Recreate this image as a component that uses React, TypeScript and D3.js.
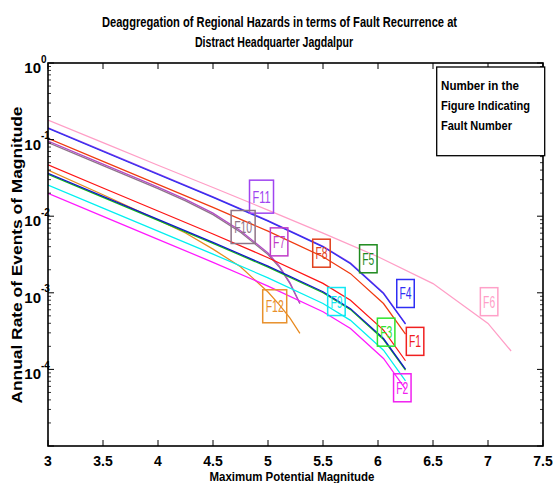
import React, { useLayoutEffect, useRef, useState } from 'react';
import * as d3 from 'd3';

// ---------- data (log10 of annual rate) ----------
const magGroupA = [3, 3.5, 4, 4.5, 5, 5.5, 5.75, 6.05, 6.25];
const magF6 = [3, 3.5, 4, 4.5, 5, 5.5, 6, 6.5, 6.75, 7.0, 7.21];
const magShort = [3, 3.5, 4, 4.25, 4.5, 4.75, 5.0, 5.1, 5.2, 5.29];

const f6Log = [-0.744, -1.04, -1.335, -1.625, -1.92, -2.22, -2.53, -2.88, -3.14, -3.4, -3.76];
const f11Log = [-0.845, -1.147, -1.447, -1.747, -2.057, -2.392, -2.612, -3.002, -3.402];
const f4Log = [-0.853, -1.155, -1.455, -1.755, -2.065, -2.4, -2.62, -3.01, -3.41];
const f8Log = [-0.983, -1.285, -1.585, -1.885, -2.195, -2.53, -2.75, -3.14, -3.54];
const f1Log = [-1.33, -1.632, -1.932, -2.232, -2.542, -2.877, -3.097, -3.487, -3.887];
const f5Log = [-1.44, -1.742, -2.042, -2.342, -2.652, -2.987, -3.207, -3.597, -3.997];
const f3Log = [-1.453, -1.755, -2.055, -2.355, -2.665, -3.0, -3.22, -3.61, -4.01];
const f9Log = [-1.593, -1.895, -2.195, -2.495, -2.805, -3.14, -3.36, -3.75, -4.15];
const f2Log = [-1.7, -2.002, -2.302, -2.602, -2.912, -3.247, -3.467, -3.857, -4.257];
const f7Log = [-1.02, -1.32, -1.62, -1.78, -1.96, -2.19, -2.48, -2.645, -2.87, -3.14];
const f10Log = [-1.04, -1.34, -1.64, -1.8, -1.98, -2.21, -2.5, -2.66, -2.88, -3.14];
const f12Log = [-1.397, -1.72, -2.05, -2.22, -2.43, -2.66, -2.99, -3.15, -3.33, -3.53];

const xTicks = [3, 3.5, 4, 4.5, 5, 5.5, 6, 6.5, 7, 7.5];
const yDecades = [0, -1, -2, -3, -4, -5];
const yLabelExps = [0, -1, -2, -3, -4];

const titleLines = [
  'Deaggregation of Regional Hazards in terms of Fault Recurrence at',
  'Distract Headquarter Jagdalpur',
];
const legendLines = ['Number in the', 'Figure Indicating', 'Fault Number'];

// label name, magnitude, log10 rate of box centre
const labelNames = ['F11', 'F10', 'F7', 'F8', 'F5', 'F4', 'F9', 'F12', 'F3', 'F1', 'F2', 'F6'];
const labelMag = [4.941, 4.774, 5.101, 5.486, 5.912, 6.25, 5.622, 5.061, 6.074, 6.337, 6.221, 7.01];
const labelLog = [-1.745, -2.141, -2.335, -2.483, -2.556, -3.009, -3.114, -3.176, -3.514, -3.634, -4.24, -3.116];

// ---------- styles ----------
const seriesDefs = [
  { mags: magF6, vals: f6Log, color: '#ff9ec6' },
  { mags: magShort, vals: f12Log, color: '#e8891e' },
  { mags: magShort, vals: f10Log, color: '#8e7488' },
  { mags: magShort, vals: f7Log, color: '#b24cc4' },
  { mags: magGroupA, vals: f2Log, color: '#ff18ff' },
  { mags: magGroupA, vals: f9Log, color: '#00f0f0' },
  { mags: magGroupA, vals: f3Log, color: '#12c012' },
  { mags: magGroupA, vals: f5Log, color: '#1414c8' },
  { mags: magGroupA, vals: f1Log, color: '#ff1414' },
  { mags: magGroupA, vals: f8Log, color: '#f03a10' },
  { mags: magGroupA, vals: f11Log, color: '#8a3ae6' },
  { mags: magGroupA, vals: f4Log, color: '#3030f0' },
];
const labelColors = {
  F11: '#a044f0', F10: '#8e7488', F7: '#c03cc8', F8: '#e0401c', F5: '#1e8a1e',
  F4: '#2e2ef4', F9: '#10e8f4', F12: '#e8902c', F3: '#2ee42e', F1: '#f02020',
  F2: '#f020f0', F6: '#ffa0c8',
};

const boldFont = '"Liberation Sans", Arial, sans-serif';

// Text squeezed horizontally to a target width (condensed look)
function FitText(props: any) {
  const { x, y, width, anchor, fontSize, rotate, children, fill } = props;
  const ref = useRef<any>(null);
  const [sx, setSx] = useState(0.7);
  useLayoutEffect(() => {
    if (ref.current) {
      const w = ref.current.getComputedTextLength();
      if (w > 0) setSx(width / w);
    }
  }, [width, children]);
  const tr = `translate(${x},${y})${rotate ? ` rotate(${rotate})` : ''} scale(${sx},1)`;
  return (
    <g transform={tr}>
      <text ref={ref} x={0} y={0} textAnchor={anchor || 'start'} fontFamily={boldFont} fontWeight="bold"
        fontSize={fontSize} fill={fill || '#000'}>
        {children}
      </text>
    </g>
  );
}

export default function App() {
  const svgW = 556;
  const svgH = 483;
  const L = 48;
  const R = 543;
  const T = 63;
  const B = 446;
  const x = d3.scaleLinear().domain([3, 7.5]).range([L, R]);
  const y = d3.scaleLog().domain([1e-5, 1]).range([B, T]);
  const line = d3
    .line()
    .x((d: any) => x(d[0]))
    .y((d: any) => y(Math.pow(10, d[1])));

  const minorTicks: number[] = [];
  for (let k = -5; k < 0; k++) {
    for (let m = 2; m <= 9; m++) minorTicks.push(m * Math.pow(10, k));
  }

  return (
    <svg
      width={svgW}
      height={svgH}
      style={{ position: 'absolute', left: 0, top: 0, background: '#fff' }}
    >
      <defs>
        <clipPath id="clip">
          <rect x={L} y={T} width={R - L} height={B - T} />
        </clipPath>
      </defs>
      <rect x={0} y={0} width={svgW} height={svgH} fill="#fff" />
      {/* title */}
      <FitText x={279.5} y={27} width={355} anchor="middle" fontSize={15.5}>{titleLines[0]}</FitText>
      <FitText x={274} y={47} width={158} anchor="middle" fontSize={15.5}>{titleLines[1]}</FitText>

      {/* curves */}
      <g clipPath="url(#clip)">
        {seriesDefs.map((s, i) => (
          <path
            key={i}
            d={line(s.mags.map((m, j) => [m, s.vals[j]]) as any) || ''}
            fill="none"
            stroke={s.color}
            strokeWidth={1.25}
          />
        ))}
      </g>

      {/* fault labels */}
      {labelNames.map((n, i) => {
        const cx = x(labelMag[i]);
        const cy = y(Math.pow(10, labelLog[i]));
        const w = n.length === 3 ? 24 : 17.5;
        const h = n.length === 3 ? 33 : 28;
        const c = (labelColors as any)[n];
        return (
          <g key={n}>
            <rect x={cx - w / 2} y={cy - h / 2} width={w} height={h} fill="none" stroke={c} strokeWidth={1.5} />
            <text x={cx} y={cy + 6} textAnchor="middle" fill={c} fontFamily={boldFont} fontSize={16}
              textLength={n.length === 3 ? 18 : 12} lengthAdjust="spacingAndGlyphs">{n}</text>
          </g>
        );
      })}

      {/* frame */}
      <rect x={L} y={T} width={R - L} height={B - T} fill="none" stroke="#000" strokeWidth={1.6} />

      {/* x ticks */}
      {xTicks.map((t) => (
        <g key={'x' + t}>
          <line x1={x(t)} x2={x(t)} y1={B} y2={B - 6} stroke="#000" strokeWidth={1} />
          <line x1={x(t)} x2={x(t)} y1={T} y2={T + 6} stroke="#000" strokeWidth={1} />
          <text x={x(t)} y={466} textAnchor="middle" fontFamily={boldFont} fontWeight="bold" fontSize={14}>
            {String(t)}
          </text>
        </g>
      ))}

      {/* y ticks */}
      {yDecades.map((k) => {
        const yy = y(Math.pow(10, k));
        return (
          <g key={'d' + k}>
            <line x1={L} x2={L + 6} y1={yy} y2={yy} stroke="#000" strokeWidth={1} />
            <line x1={R} x2={R - 6} y1={yy} y2={yy} stroke="#000" strokeWidth={1} />
          </g>
        );
      })}
      {minorTicks.map((v, i) => {
        const yy = y(v);
        return (
          <g key={'m' + i}>
            <line x1={L} x2={L + 3} y1={yy} y2={yy} stroke="#000" strokeWidth={0.8} />
            <line x1={R} x2={R - 3} y1={yy} y2={yy} stroke="#000" strokeWidth={0.8} />
          </g>
        );
      })}
      {yLabelExps.map((k) => {
        const yy = y(Math.pow(10, k));
        return (
          <g key={'l' + k}>
            <text x={41} y={yy + 10} textAnchor="end" fontFamily={boldFont} fontWeight="bold" fontSize={15}>10</text>
            <text x={41} y={yy - 0.5} textAnchor="start" fontFamily={boldFont} fontWeight="bold" fontSize={10}>
              {String(k)}
            </text>
          </g>
        );
      })}

      {/* axis labels */}
      <FitText x={292} y={481} width={165} anchor="middle" fontSize={13.5}>Maximum Potential Magnitude</FitText>
      <FitText x={22} y={255} width={297} anchor="middle" fontSize={15} rotate={-90}>
        Annual Rate of Events of Magnitude
      </FitText>

      {/* legend note */}
      <rect x={436.7} y={67} width={108} height={88.7} fill="#fff" stroke="#000" strokeWidth={1.3} />
      <FitText x={441} y={89.5} width={78} fontSize={13.5}>{legendLines[0]}</FitText>
      <FitText x={441} y={109.5} width={89} fontSize={13.5}>{legendLines[1]}</FitText>
      <FitText x={441} y={130} width={71} fontSize={13.5}>{legendLines[2]}</FitText>
    </svg>
  );
}
